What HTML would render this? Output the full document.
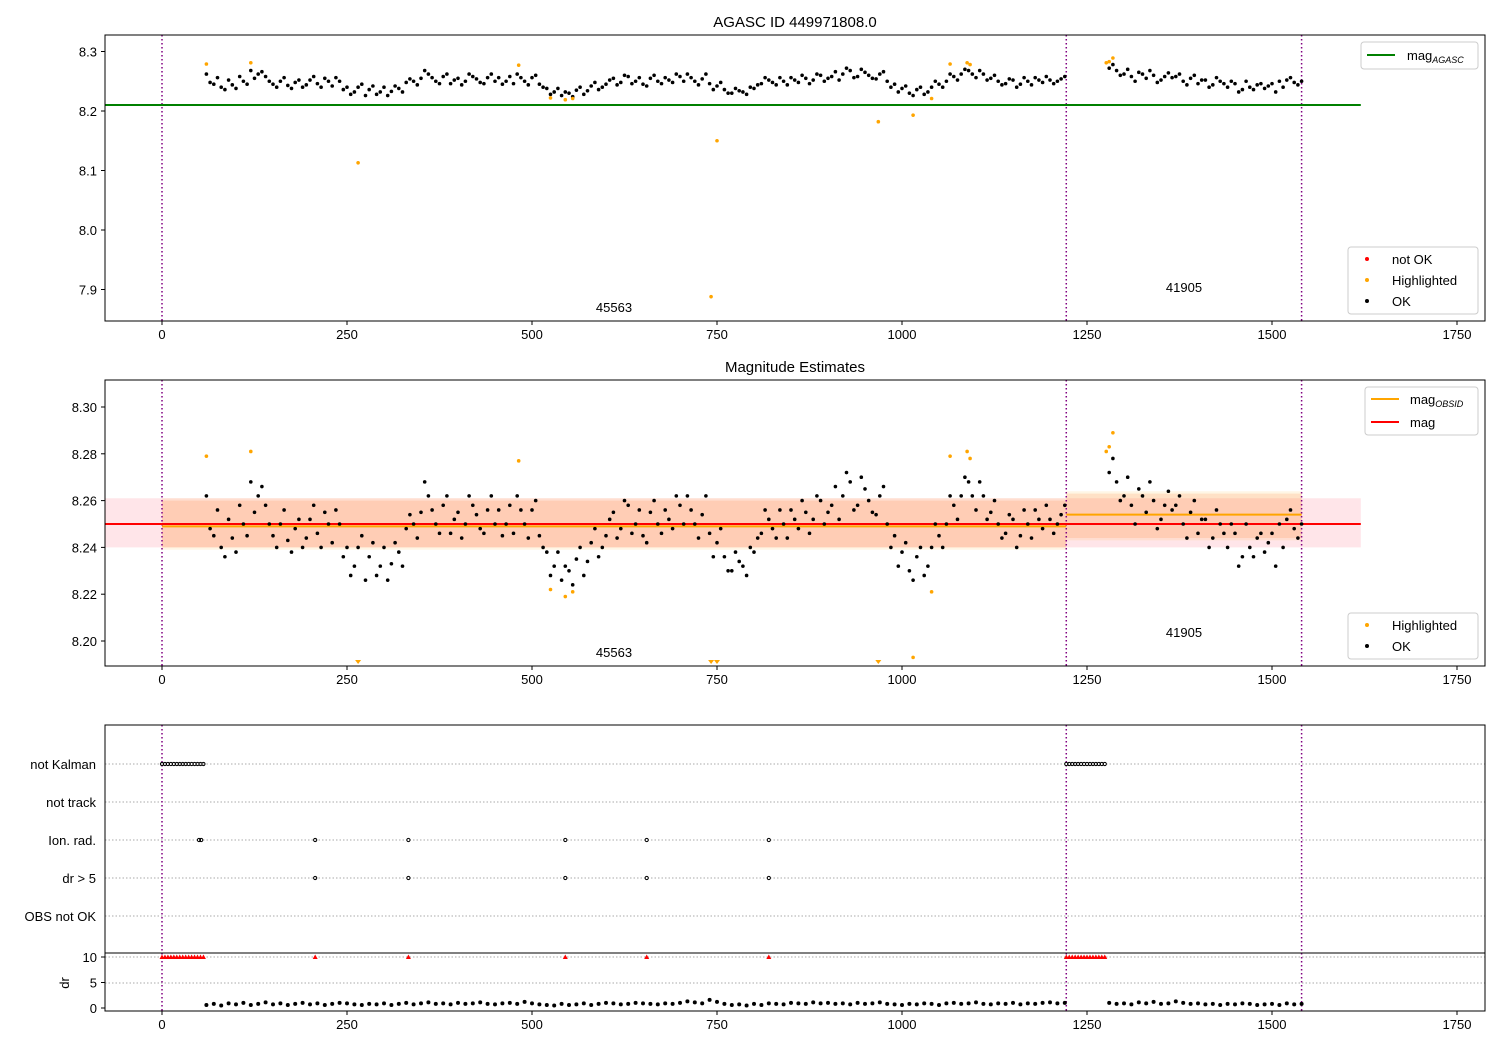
<!DOCTYPE html>
<html><head><meta charset="utf-8"><style>
body{margin:0;background:#fff;}
svg text{font-family:"Liberation Sans","DejaVu Sans",sans-serif;}
</style></head><body>
<svg id="c" width="1500" height="1050" xmlns="http://www.w3.org/2000/svg"></svg>
<script>
const obs1Start = 60, obs2Start = 1280, step = 10;
const obs1bStart = 65, obs2bStart = 1285;
const magObs1 = [8.262,8.245,8.240,8.252,8.238,8.250,8.268,8.262,8.258,8.245,8.250,8.243,8.248,8.240,8.252,8.246,8.255,8.242,8.250,8.240,8.232,8.245,8.236,8.228,8.240,8.233,8.238,8.248,8.250,8.255,8.262,8.250,8.258,8.246,8.255,8.250,8.258,8.248,8.256,8.250,8.245,8.258,8.262,8.250,8.256,8.245,8.238,8.232,8.226,8.230,8.235,8.228,8.242,8.236,8.245,8.255,8.248,8.258,8.250,8.245,8.255,8.250,8.256,8.248,8.258,8.262,8.250,8.254,8.246,8.242,8.236,8.230,8.234,8.228,8.238,8.246,8.252,8.244,8.250,8.256,8.248,8.255,8.252,8.260,8.255,8.266,8.262,8.268,8.258,8.265,8.255,8.262,8.250,8.245,8.238,8.230,8.236,8.228,8.240,8.245,8.250,8.258,8.262,8.268,8.256,8.262,8.255,8.250,8.246,8.252,8.245,8.250,8.256,8.248,8.252,8.250,8.258];
const magObs2 = [8.272,8.268,8.262,8.258,8.265,8.255,8.260,8.252,8.264,8.258,8.250,8.255,8.246,8.252,8.244,8.250,8.240,8.246,8.236,8.240,8.244,8.238,8.246,8.250,8.252,8.248,8.250];
const magObs1b = [8.248,8.256,8.236,8.244,8.258,8.245,8.255,8.266,8.250,8.240,8.256,8.238,8.252,8.244,8.258,8.240,8.250,8.256,8.236,8.228,8.240,8.226,8.242,8.232,8.226,8.242,8.232,8.254,8.244,8.268,8.256,8.246,8.262,8.252,8.244,8.262,8.254,8.246,8.262,8.256,8.250,8.246,8.256,8.244,8.260,8.240,8.228,8.238,8.232,8.224,8.240,8.234,8.248,8.240,8.252,8.244,8.260,8.246,8.256,8.242,8.260,8.246,8.252,8.262,8.250,8.256,8.244,8.262,8.236,8.248,8.230,8.238,8.232,8.240,8.244,8.256,8.248,8.256,8.244,8.252,8.260,8.246,8.262,8.250,8.258,8.252,8.272,8.256,8.270,8.260,8.254,8.266,8.240,8.232,8.242,8.226,8.240,8.232,8.250,8.240,8.262,8.252,8.270,8.262,8.268,8.252,8.260,8.244,8.254,8.240,8.256,8.244,8.252,8.258,8.246,8.254];
const magObs2b = [8.278,8.260,8.270,8.250,8.262,8.268,8.248,8.258,8.256,8.262,8.244,8.260,8.252,8.240,8.256,8.246,8.250,8.232,8.250,8.236,8.246,8.242,8.232,8.240,8.256,8.244];
const drObs1 = [0.6,0.8,0.5,0.9,0.7,1.0,0.6,0.8,1.1,0.7,0.9,0.6,0.8,1.0,0.7,0.9,0.6,0.8,1.0,0.9,0.7,0.6,0.8,0.7,0.9,0.6,0.8,1.0,0.7,0.9,1.1,0.8,0.9,0.7,1.0,0.8,0.9,1.1,0.8,0.7,0.9,1.0,0.8,1.2,0.9,0.7,0.6,0.5,0.8,0.6,0.7,0.9,0.6,0.8,1.0,0.9,0.7,0.8,1.0,0.9,0.8,0.7,0.9,0.8,1.0,1.3,1.1,0.9,1.6,1.2,0.8,0.6,0.7,0.5,0.8,0.6,0.9,0.8,0.7,1.0,0.9,0.8,1.1,0.9,1.0,0.8,0.9,0.7,1.0,0.8,0.9,1.1,0.8,0.7,0.6,0.8,0.7,0.9,0.8,0.6,0.9,1.0,0.8,0.9,1.1,0.8,0.7,0.9,0.8,1.0,0.7,0.9,0.8,1.0,1.1,0.9,1.0];
const drObs2 = [1.0,0.8,0.9,0.7,1.1,0.9,1.2,0.8,0.9,1.3,1.0,0.8,0.9,0.7,0.8,0.6,0.8,0.7,0.9,0.8,0.6,0.7,0.8,0.6,0.9,0.7,0.8];
const hiIdx  = [60,120,265,482,525,545,555,742,750,968,1015,1040,1065,1088,1092,1276,1280,1285];
const hiVals = [8.279,8.281,8.113,8.277,8.222,8.219,8.221,7.888,8.150,8.182,8.193,8.221,8.279,8.281,8.278,8.281,8.283,8.289];
const flagRows = ["not Kalman","not track","Ion. rad.","dr > 5","OBS not OK"];
const notKalman = [0,4,8,12,16,20,24,28,32,36,40,44,48,52,56,1222,1226,1230,1234,1238,1242,1246,1250,1254,1258,1262,1266,1270,1274];
const ionRad = [50,53,207,333,545,655,820];
const drBig = [207,333,545,655,820];
const xTicks = [0,250,500,750,1000,1250,1500,1750];
const y1Ticks = [8.3,8.2,8.1,8.0,7.9];
const y2Ticks = [8.30,8.28,8.26,8.24,8.22,8.20];
const drTicks = [10,5,0];
const obsBounds = [0,1222,1540];
const obsMag = [8.249,8.254];
const obsLow = [8.239,8.243], obsHigh=[8.261,8.264];
const agascMag = 8.21, magMean = 8.25, magLow = 8.24, magHigh = 8.261;

const S = document.getElementById('c');
const NS='http://www.w3.org/2000/svg';
function el(t,a,p){const e=document.createElementNS(NS,t);for(const k in a)e.setAttribute(k,a[k]);(p||S).appendChild(e);return e;}
const X = v=>162+v*0.74;
const Y1 = v=>111-(v-8.2)*595;
const Y2 = v=>524-(v-8.25)*2340;
const YD = v=>1008-v*5.1;
const L=105,R=1485;
const defs=el('defs',{});
[['c1',35,286],['c2',380,286],['c3',725,286]].forEach(([id,t,h])=>{const cp=el('clipPath',{id:id},defs);el('rect',{x:L,y:t,width:R-L,height:h},cp);});

function txt(x,y,s,anchor,size,name){const t=el('text',{x:x,y:y,'text-anchor':anchor||'middle','font-size':size||13,fill:'#000'});t.textContent=s;return t;}
function frame(t,b,name){const r=el('rect',{x:L,y:t,width:R-L,height:b-t,fill:'none',stroke:'#000','stroke-width':1});}
function xAxis(b){xTicks.forEach(v=>{el('line',{x1:X(v),x2:X(v),y1:b,y2:b+4,stroke:'#000'});txt(X(v),b+18,String(v),'middle',13,'x-tick-label');});}
function vlines(g,t,b){obsBounds.forEach(v=>{const l=el('line',{x1:X(v),x2:X(v),y1:t,y2:b,stroke:'#800080','stroke-width':1.5,'stroke-dasharray':'1.5,2.5'},g);});}

function eachMag(cb){
 magObs1.forEach((v,i)=>cb(obs1Start+i*step,v));magObs2.forEach((v,i)=>cb(obs2Start+i*step,v));
 magObs1b.forEach((v,i)=>cb(obs1bStart+i*step,v));magObs2b.forEach((v,i)=>cb(obs2bStart+i*step,v));
}

// ---- Panel 1
txt(795,27,'AGASC ID 449971808.0','middle',15,'title');
const g1=el('g',{'clip-path':'url(#c1)'});
vlines(g1,35,321);
let ln=el('line',{x1:L,x2:X(1620),y1:Y1(agascMag),y2:Y1(agascMag),stroke:'green','stroke-width':2},g1);

eachMag((i,v)=>{const c=el('circle',{cx:X(i),cy:Y1(v),r:1.8,fill:'#000'},g1);});
hiIdx.forEach((i,k)=>{const c=el('circle',{cx:X(i),cy:Y1(hiVals[k]),r:1.8,fill:'orange'},g1);});
txt(614,312,'45563','middle',13,'obsid-label');txt(1184,292,'41905','middle',13,'obsid-label');
frame(35,321,'top-axes');xAxis(321);
y1Ticks.forEach(v=>{el('line',{x1:L-4,x2:L,y1:Y1(v),y2:Y1(v),stroke:'#000'});txt(L-8,Y1(v)+5,v.toFixed(1),'end',13,'y-tick-label');});
function legBox(x,y,w,h,name){const r=el('rect',{x:x,y:y,width:w,height:h,rx:3,fill:'#fff',stroke:'#ccc'});}
legBox(1361,42,117,27,'agasc-legend');
el('line',{x1:1367,x2:1395,y1:55,y2:55,stroke:'green','stroke-width':2});
let t=txt(1407,60,'mag','start',13,'legend-entry');let ts=el('tspan',{'font-size':9,dy:3,'font-style':'italic'},t);ts.textContent='AGASC';
legBox(1348,247,130,67,'status-legend');
[['red','not OK',259],['orange','Highlighted',280],['#000','OK',301]].forEach(([c,s,y])=>{el('circle',{cx:1367,cy:y,r:2,fill:c});txt(1392,y+5,s,'start',13,'legend-entry');});

// ---- Panel 2
txt(795,372,'Magnitude Estimates','middle',15,'subtitle');
const g2=el('g',{'clip-path':'url(#c2)'});
el('rect',{x:L,y:Y2(magHigh),width:X(1620)-L,height:Y2(magLow)-Y2(magHigh),fill:'rgba(255,0,40,0.1)'},g2);
for(let k=0;k<2;k++){
 el('rect',{x:X(obsBounds[k]),y:Y2(obsHigh[k]),width:X(obsBounds[k+1])-X(obsBounds[k]),height:Y2(obsLow[k])-Y2(obsHigh[k]),fill:'rgba(255,165,0,0.1)'},g2);
 el('rect',{x:X(obsBounds[k]),y:Y2(obsHigh[k]-0.001),width:X(obsBounds[k+1])-X(obsBounds[k]),height:Y2(obsLow[k]+0.001)-Y2(obsHigh[k]-0.001),fill:'rgba(255,120,40,0.16)'},g2);
}
vlines(g2,380,666);
ln=el('line',{x1:L,x2:X(1620),y1:Y2(magMean),y2:Y2(magMean),stroke:'red','stroke-width':2},g2);
for(let k=0;k<2;k++){ln=el('line',{x1:X(obsBounds[k]),x2:X(obsBounds[k+1]),y1:Y2(obsMag[k]),y2:Y2(obsMag[k]),stroke:'orange','stroke-width':2},g2);}
eachMag((i,v)=>{const c=el('circle',{cx:X(i),cy:Y2(v),r:1.8,fill:'#000'},g2);});
hiIdx.forEach((i,k)=>{const v=hiVals[k];let c;
 if(v<8.19){const x=X(i),y=663;c=el('path',{d:`M${x-3},${y-3}L${x+3},${y-3}L${x},${y+1}Z`,fill:'orange'},g2);}
 else c=el('circle',{cx:X(i),cy:Y2(v),r:1.8,fill:'orange'},g2);
 });
txt(614,657,'45563','middle',13,'obsid-label');txt(1184,637,'41905','middle',13,'obsid-label');
frame(380,666,'middle-axes');xAxis(666);
y2Ticks.forEach(v=>{el('line',{x1:L-4,x2:L,y1:Y2(v),y2:Y2(v),stroke:'#000'});txt(L-8,Y2(v)+5,v.toFixed(2),'end',13,'y-tick-label');});
legBox(1365,387,113,48,'mag-legend');
el('line',{x1:1371,x2:1399,y1:399,y2:399,stroke:'orange','stroke-width':2});
t=txt(1410,404,'mag','start',13,'legend-entry');ts=el('tspan',{'font-size':9,dy:3,'font-style':'italic'},t);ts.textContent='OBSID';
el('line',{x1:1371,x2:1399,y1:422,y2:422,stroke:'red','stroke-width':2});txt(1410,427,'mag','start',13,'legend-entry');
legBox(1348,613,130,46,'status-legend-2');
[['orange','Highlighted',625],['#000','OK',646]].forEach(([c,s,y])=>{el('circle',{cx:1367,cy:y,r:2,fill:c});txt(1392,y+5,s,'start',13,'legend-entry');});

// ---- Panel 3 flags
const rowY=r=>764+r*38;
const g3=el('g',{'clip-path':'url(#c3)'});
flagRows.forEach((s,r)=>{el('line',{x1:L,x2:R,y1:rowY(r),y2:rowY(r),stroke:'#aaa','stroke-dasharray':'1.5,2'},g3);txt(96,rowY(r)+5,s,'end',13,'flag-label');});
[983,957].forEach(y=>el('line',{x1:L,x2:R,y1:y,y2:y,stroke:'#aaa','stroke-dasharray':'1.5,2'}));
vlines(S,725,1011);
function dot(x,y,c,name){const d=el('circle',{cx:x,cy:y,r:1.6,fill:'none',stroke:c,'stroke-width':1});}
notKalman.forEach(i=>dot(X(i),rowY(0),'#000','not-kalman-flag'));
ionRad.forEach(i=>dot(X(i),rowY(2),'#000','ion-rad-flag'));
drBig.forEach(i=>dot(X(i),rowY(3),'#000','dr-flag'));
notKalman.concat(drBig).forEach(i=>{const x=X(i),y=YD(10);const p=el('path',{d:`M${x-2.5},${y+2}L${x+2.5},${y+2}L${x},${y-2.5}Z`,fill:'red'});});
drObs1.forEach((v,k)=>{const c=el('circle',{cx:X(obs1Start+k*step),cy:YD(v),r:2,fill:'#000'});});
drObs2.forEach((v,k)=>{const c=el('circle',{cx:X(obs2Start+k*step),cy:YD(v),r:2,fill:'#000'});});
el('polyline',{points:`${L},953 ${L},725 ${R},725 ${R},953`,fill:'none',stroke:'#000'});
frame(953,1011,'dr-axes');xAxis(1011);
drTicks.forEach(v=>{el('line',{x1:L-4,x2:L,y1:YD(v),y2:YD(v),stroke:'#000'});txt(L-8,YD(v)+5,String(v),'end',13,'y-tick-label');});
const yl=txt(0,0,'dr','middle',13,'dr-axis-title');yl.setAttribute('transform','translate(69,983) rotate(-90)');
</script>
</body></html>
